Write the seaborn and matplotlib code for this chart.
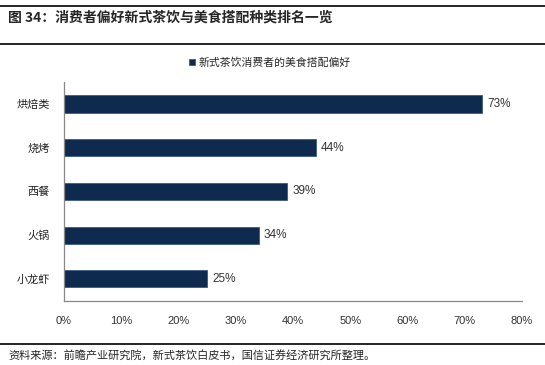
import pandas as pd
import seaborn as sns
from matplotlib import pyplot as plt
from matplotlib.lines import Line2D
import matplotlib.ticker as mtick

categories = ['烘焙类', '烧烤', '西餐', '火锅', '小龙虾']
shares = [73, 44, 39, 34, 25]
series_name = '新式茶饮消费者的美食搭配偏好'
title = '图 34：消费者偏好新式茶饮与美食搭配种类排名一览'
source = '资料来源：前瞻产业研究院，新式茶饮白皮书，国信证券经济研究所整理。'

BAR_COLOR = '#03285a'

sns.set_style('white')
plt.rcParams['font.family'] = ['Liberation Sans', 'Noto Sans CJK SC', 'DejaVu Sans']

df = pd.DataFrame({'cat': categories, 'share': shares})

fig = plt.figure(figsize=(5.45, 3.65), dpi=100)
ax = fig.add_axes([0.1174, 0.176, 0.8404, 0.599])

sns.barplot(data=df, x='share', y='cat', orient='h', color=BAR_COLOR,
            width=0.39, edgecolor='#3a5a85', linewidth=0.6, ax=ax,
            label=series_name)

ax.set_xlim(0, 80)
ax.set_ylim(4.5, -0.5)
ax.set_xticks(range(0, 81, 10))
ax.xaxis.set_major_formatter(mtick.PercentFormatter(decimals=0))
ax.set_xlabel('')
ax.set_ylabel('')

# y ticks sit between categories, labels centred on bars
ax.set_yticks([i - 0.5 for i in range(6)], minor=False)
ax.set_yticklabels([])
ax.set_yticks(range(5), minor=True)
ax.set_yticklabels(categories, minor=True, family=['Noto Sans CJK SC'], fontsize=8)
ax.tick_params(axis='y', which='minor', length=0, pad=10, colors='#222222')
ax.tick_params(axis='y', which='major', length=4, width=0.8, color='#888888', direction='out')
ax.tick_params(axis='x', length=3, width=0.8, color='#888888', direction='in',
               labelsize=8, labelcolor='#333333', pad=11)

sns.despine(ax=ax, top=True, right=True)
for side in ['left', 'bottom']:
    ax.spines[side].set_color('#888888')
    ax.spines[side].set_linewidth(0.9)

for i, v in enumerate(shares):
    ax.text(v + 0.9, i, f'{v}%', va='center', ha='left', fontsize=8.5, color='#333333')

leg = ax.legend(loc='lower center', bbox_to_anchor=(0.45, 1.02), frameon=False,
                handlelength=0.55, handleheight=0.55, handletextpad=0.3,
                prop={'family': ['Noto Sans CJK SC'], 'size': 7.8})

# page header / footer
fig.add_artist(Line2D([0, 1], [1 - 6 / 365, 1 - 6 / 365], color='black', lw=1.2))
fig.add_artist(Line2D([0, 1], [1 - 44 / 365, 1 - 44 / 365], color='black', lw=1.2))
fig.add_artist(Line2D([0, 1], [1 - 344 / 365, 1 - 344 / 365], color='black', lw=1.2))
fig.text(8 / 545, 1 - 18 / 365, title, fontsize=10, fontweight='bold',
         family=['Noto Sans CJK SC'], va='center', ha='left')
fig.text(8 / 545, 1 - 355 / 365, source, fontsize=8,
         family=['Noto Sans CJK SC'], va='center', ha='left')

fig.savefig('out.png', dpi=100)
